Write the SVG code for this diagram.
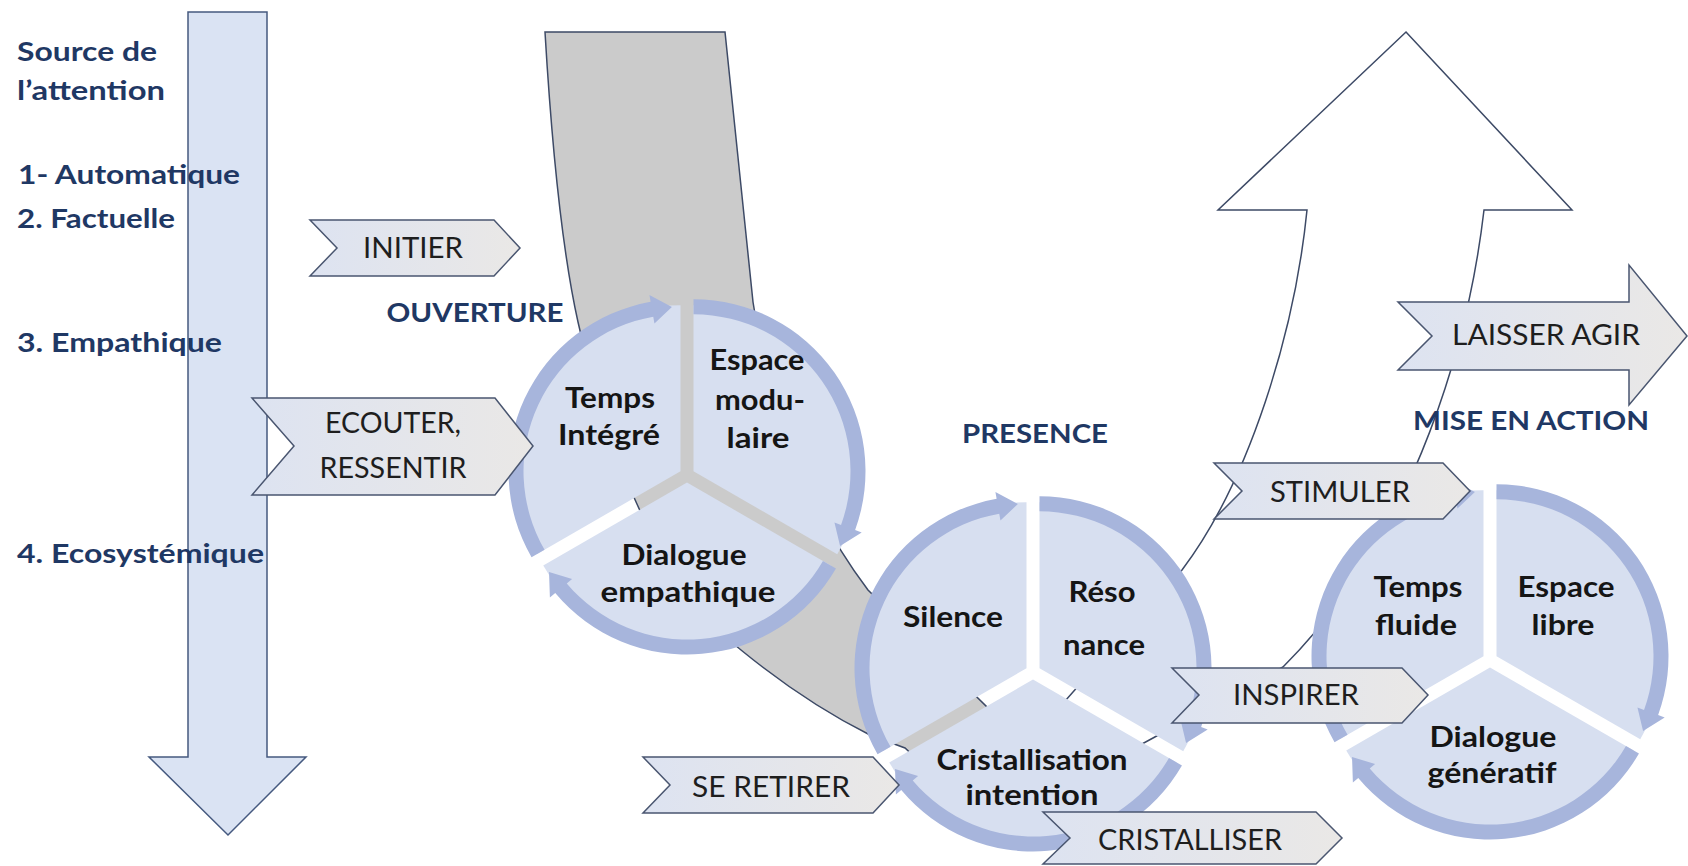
<svg xmlns="http://www.w3.org/2000/svg" xmlns:xlink="http://www.w3.org/1999/xlink" width="1688" height="866" viewBox="0 0 1688 866">
<defs>
<style>
.lbl{font-family:Lato,'Liberation Sans',sans-serif;font-weight:700;font-size:27px;fill:#1f3864}
.ttl{font-family:Lato,'Liberation Sans',sans-serif;font-weight:700;font-size:27px;fill:#1f3864;text-anchor:middle}
.ct{font-family:Lato,'Liberation Sans',sans-serif;font-weight:700;font-size:28px;fill:#151515;text-anchor:middle}
.cv{font-family:Lato,'Liberation Sans',sans-serif;font-weight:400;font-size:28px;fill:#1e1e1e;text-anchor:middle}
.chev{fill:url(#chevGrad);stroke:#4a5670;stroke-width:1.5;stroke-linejoin:miter}
.wedge{fill:#d7dff0}
.ring{fill:#a7b5dc}
.band{fill:#cbcbcb;stroke:#3d4a66;stroke-width:1.5}
.up{fill:#ffffff;stroke:#3d4a66;stroke-width:1.5}
.down{fill:#dae3f3;stroke:#45597f;stroke-width:1.5}
</style>
<linearGradient id="chevGrad" x1="0" y1="0" x2="1" y2="0">
<stop offset="0" stop-color="#dde3f1"/>
<stop offset="1" stop-color="#eae8e6"/>
</linearGradient>
<g id="seg">
<path class="wedge" d="M0,0 L0,-166 A166,166 0 0 1 143.76,83 Z"/>
<path class="ring" d="M0,-172 A172,172 0 0 1 161.63,58.83 L168.20,61.22 L146.57,74.68 L140.95,51.30 L147.53,53.70 A157,157 0 0 0 0,-157 Z"/>
</g>
</defs>
<rect x="0" y="0" width="1688" height="866" fill="#ffffff"/>

<g id="attention-arrow">
<path class="down" d="M188,12 L267,12 L267,757 L306,757 L228,835 L149,757 L188,757 Z"/>
</g>
<g id="attention-labels">
<text class="lbl" x="17" y="61" textLength="140" lengthAdjust="spacingAndGlyphs">Source de</text>
<text class="lbl" x="17" y="100" textLength="148" lengthAdjust="spacingAndGlyphs">l’attention</text>
<text class="lbl" x="18" y="184" textLength="222" lengthAdjust="spacingAndGlyphs">1- Automatique</text>
<text class="lbl" x="17" y="228" textLength="158" lengthAdjust="spacingAndGlyphs">2. Factuelle</text>
<text class="lbl" x="17" y="352" textLength="205" lengthAdjust="spacingAndGlyphs">3. Empathique</text>
<text class="lbl" x="17" y="563" textLength="247" lengthAdjust="spacingAndGlyphs">4. Ecosystémique</text>
</g>

<g id="connectors">
<path id="gray-band" class="band" d="M545,32 L725,32 C733,110 742,200 753,302 C770,420 815,520 868,590 L990,710 L950,790 L905,748 L870,735 C830,715 790,690 741,650 C650,580 600,420 578,322 C562,250 552,150 545,32 Z"/>
<path id="up-arrow" class="up" d="M1406,32 L1572,210 L1484,210 C1470,330 1420,530 1283,667 L1153,738 L1120,756 L1050,718 L1073,692 L1182,570 C1250,480 1295,330 1307,210 L1218,210 Z"/>
</g>

<g id="cycle-ouverture" transform="translate(687,475)">
<g id="seg-espace-modulaire"><use href="#seg" xlink:href="#seg" transform="translate(6.5,-3.75)"/></g>
<g id="seg-dialogue-empathique"><use href="#seg" xlink:href="#seg" transform="rotate(120) translate(6.5,-3.75)"/></g>
<g id="seg-temps-integre"><use href="#seg" xlink:href="#seg" transform="rotate(240) translate(6.5,-3.75)"/></g>
</g>
<g id="cycle-ouverture-text">
<text class="ct" x="610" y="408" textLength="90" lengthAdjust="spacingAndGlyphs">Temps</text>
<text class="ct" x="609" y="445" textLength="102" lengthAdjust="spacingAndGlyphs">Intégré</text>
<text class="ct" x="757" y="370" textLength="95" lengthAdjust="spacingAndGlyphs">Espace</text>
<text class="ct" x="760" y="410" textLength="90" lengthAdjust="spacingAndGlyphs">modu-</text>
<text class="ct" x="758" y="448" textLength="63" lengthAdjust="spacingAndGlyphs">laire</text>
<text class="ct" x="684" y="565" textLength="125" lengthAdjust="spacingAndGlyphs">Dialogue</text>
<text class="ct" x="688" y="602" textLength="175" lengthAdjust="spacingAndGlyphs">empathique</text>
</g>

<g id="cycle-presence" transform="translate(1033,672)">
<g id="seg-resonance"><use href="#seg" xlink:href="#seg" transform="translate(6.5,-3.75)"/></g>
<g id="seg-cristallisation"><use href="#seg" xlink:href="#seg" transform="rotate(120) translate(6.5,-3.75)"/></g>
<g id="seg-silence"><use href="#seg" xlink:href="#seg" transform="rotate(240) translate(6.5,-3.75)"/></g>
</g>
<g id="cycle-presence-text">
<text class="ct" x="953" y="627" textLength="100" lengthAdjust="spacingAndGlyphs">Silence</text>
<text class="ct" x="1102" y="602" textLength="67" lengthAdjust="spacingAndGlyphs">Réso</text>
<text class="ct" x="1104" y="655" textLength="82" lengthAdjust="spacingAndGlyphs">nance</text>
<text class="ct" x="1032" y="770" textLength="191" lengthAdjust="spacingAndGlyphs">Cristallisation</text>
<text class="ct" x="1032" y="805" textLength="133" lengthAdjust="spacingAndGlyphs">intention</text>
</g>

<g id="cycle-action" transform="translate(1490,660)">
<g id="seg-espace-libre"><use href="#seg" xlink:href="#seg" transform="translate(6.5,-3.75)"/></g>
<g id="seg-dialogue-generatif"><use href="#seg" xlink:href="#seg" transform="rotate(120) translate(6.5,-3.75)"/></g>
<g id="seg-temps-fluide"><use href="#seg" xlink:href="#seg" transform="rotate(240) translate(6.5,-3.75)"/></g>
</g>
<g id="cycle-action-text">
<text class="ct" x="1418" y="597" textLength="89" lengthAdjust="spacingAndGlyphs">Temps</text>
<text class="ct" x="1416" y="635" textLength="82" lengthAdjust="spacingAndGlyphs">fluide</text>
<text class="ct" x="1566" y="597" textLength="97" lengthAdjust="spacingAndGlyphs">Espace</text>
<text class="ct" x="1563" y="635" textLength="63" lengthAdjust="spacingAndGlyphs">libre</text>
<text class="ct" x="1493" y="747" textLength="127" lengthAdjust="spacingAndGlyphs">Dialogue</text>
<text class="ct" x="1492" y="783" textLength="129" lengthAdjust="spacingAndGlyphs">génératif</text>
</g>

<g id="chev-initier">
<path class="chev" d="M310,220 L494,220 L520,248 L494,276 L310,276 L337,248 Z"/>
<text class="cv" x="413" y="258" textLength="100" lengthAdjust="spacingAndGlyphs">INITIER</text>
</g>
<g id="chev-ecouter">
<path class="chev" d="M252,398 L495,398 L533,446 L495,495 L252,495 L294,446 Z"/>
<text class="cv" x="393" y="433" textLength="136" lengthAdjust="spacingAndGlyphs">ECOUTER,</text>
<text class="cv" x="393" y="478" textLength="147" lengthAdjust="spacingAndGlyphs">RESSENTIR</text>
</g>
<g id="arrow-laisser-agir">
<path class="chev" d="M1398,302 L1629,302 L1629,265 L1687,336 L1629,405 L1629,370 L1398,370 L1432,336 Z"/>
<text class="cv" x="1546" y="345" textLength="188" lengthAdjust="spacingAndGlyphs">LAISSER AGIR</text>
</g>
<g id="chev-stimuler">
<path class="chev" d="M1214,463 L1443,463 L1470,491 L1443,519 L1214,519 L1242,491 Z"/>
<text class="cv" x="1340" y="502" textLength="140" lengthAdjust="spacingAndGlyphs">STIMULER</text>
</g>
<g id="chev-inspirer">
<path class="chev" d="M1172,668 L1402,668 L1428,695 L1402,723 L1172,723 L1199,695 Z"/>
<text class="cv" x="1296" y="705" textLength="126" lengthAdjust="spacingAndGlyphs">INSPIRER</text>
</g>
<g id="chev-se-retirer">
<path class="chev" d="M643,757 L873,757 L899,785 L873,813 L643,813 L670,785 Z"/>
<text class="cv" x="771" y="797" textLength="158" lengthAdjust="spacingAndGlyphs">SE RETIRER</text>
</g>
<g id="chev-cristalliser">
<path class="chev" d="M1043,812 L1316,812 L1342,838 L1316,864 L1043,864 L1070,838 Z"/>
<text class="cv" x="1190" y="850" textLength="184" lengthAdjust="spacingAndGlyphs">CRISTALLISER</text>
</g>

<g id="titles">
<text class="ttl" x="475" y="322" textLength="177" lengthAdjust="spacingAndGlyphs">OUVERTURE</text>
<text class="ttl" x="1035" y="443" textLength="146" lengthAdjust="spacingAndGlyphs">PRESENCE</text>
<text class="ttl" x="1531" y="430" textLength="236" lengthAdjust="spacingAndGlyphs">MISE EN ACTION</text>
</g>
</svg>
